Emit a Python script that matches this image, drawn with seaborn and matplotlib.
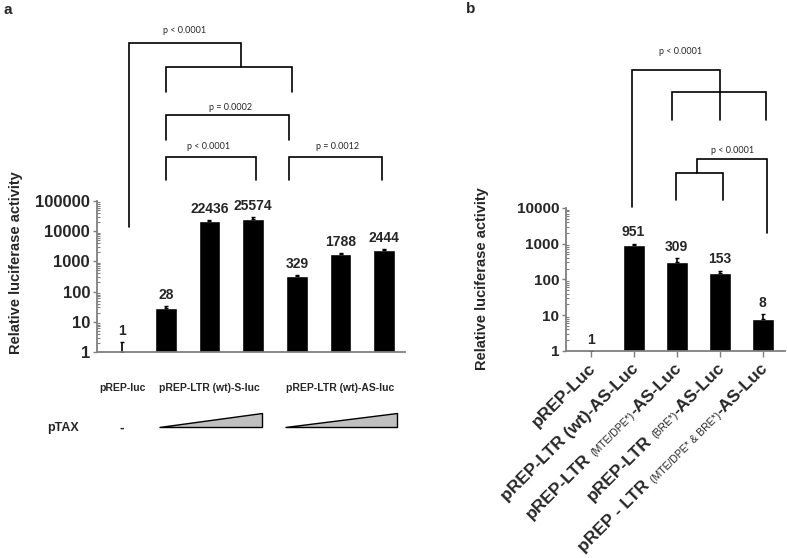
import numpy as np
import matplotlib
matplotlib.use('Agg')
import matplotlib.pyplot as plt
import matplotlib.transforms as mtransforms
from matplotlib.patches import Polygon
from matplotlib.ticker import LogLocator, FuncFormatter, NullFormatter
import seaborn as sns

# Panel a data
a_bars = ['pREP-luc', 'S-luc 1', 'S-luc 2', 'S-luc 3', 'AS-luc 1', 'AS-luc 2', 'AS-luc 3']
a_values = [1, 28, 22436, 25574, 329, 1788, 2444]
a_err = [1.1, 6, 1200, 3500, 25, 60, 120]
a_groups = ['pREP-luc', 'pREP-LTR (wt)-S-luc', 'pREP-LTR (wt)-AS-luc']
a_pvals = ['p < 0.0001', 'p = 0.0002', 'p < 0.0001', 'p = 0.0012']

# Panel b data
b_bars = ['pREP-Luc', 'wt', 'MTE/DPE', 'BRE', 'MTE/DPE & BRE']
b_values = [1, 951, 309, 153, 8]
b_err = [0, 60, 80, 25, 2.5]
b_labels = [
    [('pREP-Luc', 'big')],
    [('pREP-LTR (wt)-AS-Luc', 'big')],
    [('pREP-LTR ', 'big'), ('(MTE/DPE*)', 'small'), ('-AS-Luc', 'big')],
    [('pREP-LTR ', 'big'), ('(BRE*)', 'small'), ('-AS-Luc', 'big')],
    [('pREP - LTR ', 'big'), ('(MTE/DPE* & BRE*)', 'small'), ('-AS-Luc', 'big')],
]
b_pvals = ['p < 0.0001', 'p < 0.0001']

sns.set_style('ticks')
plt.rcParams['font.family'] = ['Liberation Sans', 'DejaVu Sans']
AXC = '#7f7f7f'
PFONT = ['Lato', 'DejaVu Sans']

fig = plt.figure(figsize=(7.87, 5.58), dpi=100)
ax_a = fig.add_axes([0.1233, 0.3692, 0.3914, 0.2706])
ax_b = fig.add_axes([0.7192, 0.371, 0.2783, 0.2563])

sns.barplot(x=a_bars, y=a_values, color='black', saturation=1, width=0.5, ax=ax_a)
sns.barplot(x=b_bars, y=b_values, color='black', saturation=1, width=0.51, ax=ax_b)


def style_axis(ax, vals, errs, ytop, xlim, ysize):
    ax.set_yscale('log')
    ax.set_ylim(1, ytop)
    ax.set_xlim(*xlim)
    ax.errorbar(range(len(vals)), vals, yerr=[np.zeros(len(vals)), errs], fmt='none',
                ecolor='black', elinewidth=1.2, capsize=1.5, capthick=1)
    ax.yaxis.set_major_locator(LogLocator(base=10, numticks=12))
    ax.yaxis.set_major_formatter(FuncFormatter(lambda v, p: f'{int(round(v))}'))
    ax.yaxis.set_minor_locator(LogLocator(base=10, subs=np.arange(2, 10), numticks=12))
    ax.yaxis.set_minor_formatter(NullFormatter())
    ax.tick_params(axis='y', which='major', direction='out', length=3, width=1,
                   color=AXC, labelsize=ysize, pad=2)
    ax.tick_params(axis='y', which='minor', direction='in', length=2, width=0.8, color=AXC)
    for lab in ax.get_yticklabels():
        lab.set_fontweight('bold')
    sns.despine(ax=ax)
    for s in ['left', 'bottom']:
        ax.spines[s].set_color(AXC)
        ax.spines[s].set_linewidth(1.3)
    ax.set_xlabel('')
    for i, (v, e) in enumerate(zip(vals, errs)):
        ax.annotate(str(v), xy=(i, v + e), xytext=(0, 3), textcoords='offset points',
                    ha='center', va='bottom', fontsize=10, fontweight='bold')


style_axis(ax_a, a_values, a_err, 1e5, (-0.572, 6.476), 12)
style_axis(ax_b, b_values, b_err, 1e4, (-0.57, 4.52), 11)

ax_a.tick_params(axis='x', length=0, labelbottom=False)
ax_b.tick_params(axis='x', direction='out', length=4, width=1, color=AXC, labelbottom=False)

ax_a.set_ylabel('Relative luciferase activity', fontsize=10.5, fontweight='bold', va='center')
ax_a.yaxis.set_label_coords(-0.262, 0.589)
ax_b.set_ylabel('Relative luciferase activity', fontsize=10.5, fontweight='bold', va='center')
ax_b.yaxis.set_label_coords(-0.384, 0.503)

fig.text(8 / 787, 1 - 10 / 558, 'a', fontsize=11, fontweight='bold', ha='center', va='center')
fig.text(471 / 787, 1 - 9 / 558, 'b', fontsize=11, fontweight='bold', ha='center', va='center')

# significance brackets (x in bar units, y in axes fraction)
tr_a = mtransforms.blended_transform_factory(ax_a.transData, ax_a.transAxes)
tr_b = mtransforms.blended_transform_factory(ax_b.transData, ax_b.transAxes)


def bracket(ax, tr, pts):
    xs, ys = zip(*pts)
    ax.plot(xs, ys, transform=tr, clip_on=False, color='black', lw=1.2,
            solid_joinstyle='miter')


bracket(ax_a, tr_a, [(0.16, 0.828), (0.16, 2.046), (2.72, 2.046), (2.72, 1.887)])
bracket(ax_a, tr_a, [(1.0, 1.722), (1.0, 1.887), (3.89, 1.887), (3.89, 1.722)])
bracket(ax_a, tr_a, [(1.0, 1.404), (1.0, 1.570), (3.82, 1.570), (3.82, 1.404)])
bracket(ax_a, tr_a, [(1.0, 1.139), (1.0, 1.291), (3.07, 1.291), (3.07, 1.139)])
bracket(ax_a, tr_a, [(3.82, 1.139), (3.82, 1.291), (5.95, 1.291), (5.95, 1.139)])
for (x, y), txt in zip([(1.44, 2.132), (2.49, 1.616), (1.99, 1.358), (4.92, 1.358)], a_pvals):
    ax_a.text(x, y, txt, transform=tr_a, ha='center', va='center', fontsize=6.5,
              family=PFONT, clip_on=False)

bracket(ax_b, tr_b, [(0.965, 1.007), (0.965, 1.965), (3.01, 1.965), (3.01, 1.615)])
bracket(ax_b, tr_b, [(1.895, 1.615), (1.895, 1.811), (4.08, 1.811), (4.08, 1.615)])
bracket(ax_b, tr_b, [(2.48, 1.245), (2.48, 1.343), (4.10, 1.343), (4.10, 0.825)])
bracket(ax_b, tr_b, [(1.99, 1.056), (1.99, 1.245), (3.08, 1.245), (3.08, 1.056)])
for (x, y), txt in zip([(2.10, 2.091), (3.31, 1.399)], b_pvals):
    ax_b.text(x, y, txt, transform=tr_b, ha='center', va='center', fontsize=6.5,
              family=PFONT, clip_on=False)

# panel a group labels and pTAX ramps
for x, txt in zip([0, 2, 5], a_groups):
    ax_a.text(x, -0.238, txt, transform=tr_a, ha='center', va='center', fontsize=7.5,
              fontweight='bold', clip_on=False)
ax_a.text(-1.35, -0.503, 'pTAX', transform=tr_a, ha='center', va='center', fontsize=9,
          fontweight='bold', clip_on=False)
ax_a.text(0, -0.503, '-', transform=tr_a, ha='center', va='center', fontsize=10,
          fontweight='bold', clip_on=False)
for x0, x1 in [(0.85, 3.2), (3.73, 6.29)]:
    ax_a.add_patch(Polygon([(x0, -0.497), (x1, -0.497), (x1, -0.404)], closed=True,
                           transform=tr_a, facecolor='#c0c0c0', edgecolor='black',
                           lw=1, clip_on=False))

# panel b rotated mixed-size tick labels, laid out from the end backwards
fig.canvas.draw()
renderer = fig.canvas.get_renderer()
sizes = {'big': (12.5, 'bold'), 'small': (7.5, 'normal')}
c45 = np.cos(np.radians(45))
for i, parts in enumerate(b_labels):
    cum = 0.0
    for txt, kind in reversed(parts):
        fs, fw = sizes[kind]
        if txt != txt.rstrip():
            cum += 0.28 * fs * 100 / 72
        txt = txt.rstrip()
        ax_b.annotate(txt, xy=(i, 0), xycoords=tr_b,
                      xytext=(6 - cum * c45, -18 - cum * c45), textcoords='offset pixels',
                      rotation=45, rotation_mode='anchor', ha='right', va='baseline',
                      fontsize=fs, fontweight=fw, annotation_clip=False)
        tmp = fig.text(0, 0, txt, fontsize=fs, fontweight=fw)
        cum += tmp.get_window_extent(renderer).width
        tmp.remove()

fig.savefig('out.png', dpi=100)
